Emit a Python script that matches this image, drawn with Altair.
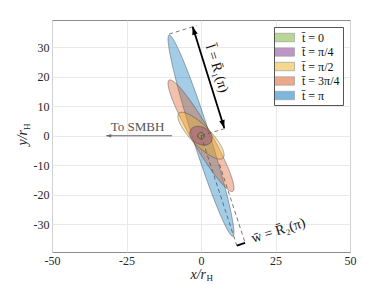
import altair as alt
import numpy as np
import pandas as pd

# ---- data ----
labels = ["t̄ = 0", "t̄ = π/4", "t̄ = π/2", "t̄ = 3π/4", "t̄ = π"]
colors = ["#77AC30", "#7E2F8E", "#EDB120", "#D95319", "#0072BD"]
semi_major = [1.1, 4.0, 10.6, 21.7, 35.8]
semi_minor = [1.1, 2.9, 3.3, 3.3, 2.9]
tilt_deg = [0.0, 150.0, 134.0, 119.5, 107.4]

x_ticks = [-50, -25, 0, 25, 50]
y_ticks = [-30, -20, -10, 0, 10, 20, 30]

# annotation segments (x, y, x2, y2)
dashed_x = [-10.7, 0.0, 0.0, 6.2]
dashed_y = [34.5, 0.0, 0.0, -9.7]
dashed_x2 = [-1.5, 8.6, 12.0, 14.8]
dashed_y2 = [37.4, 2.6, -37.3, -36.4]

solid_x = [-2.8, 12.0]
solid_y = [37.0, -37.3]
solid_x2 = [7.8, 14.8]
solid_y2 = [2.6, -36.4]

head_x = [-2.8, 7.8]
head_y = [37.0, 2.6]
head_angle = [343, 163]

smbh_x, smbh_x2, smbh_y = [-9.7], [-31.8], [0.0]
smbh_text = ["To SMBH"]
smbh_text_x, smbh_text_y = [-21.3], [2.8]

ann_text = ["l̄ = R̄₁(π)", "w̄ = R̄₂(π)"]
ann_x = [5.3, 26.0]
ann_y = [22.8, -32.3]
ann_angle = [73, 343]

X_DOM = [-50, 50]
Y_DOM = [-39.5, 39.3]
SERIF = "Liberation Serif"


def ellipse_rows(label, a, b, th_deg, n=241):
    th = np.radians(th_deg)
    c, s = np.cos(th), np.sin(th)
    A = c * c / a**2 + s * s / b**2
    ymax = np.sqrt(a * a * s * s + b * b * c * c)
    ys = ymax * np.cos(np.linspace(0, np.pi, n))
    B = 2 * ys * s * c * (1 / a**2 - 1 / b**2)
    C = ys**2 * (s * s / a**2 + c * c / b**2) - 1
    disc = np.clip(B * B - 4 * A * C, 0, None)
    x1 = (-B - np.sqrt(disc)) / (2 * A)
    x2 = (-B + np.sqrt(disc)) / (2 * A)
    return pd.DataFrame({"label": label, "y": ys, "x1": x1, "x2": x2})


df = pd.concat(
    [ellipse_rows(l, a, b, t) for l, a, b, t in zip(labels, semi_major, semi_minor, tilt_deg)],
    ignore_index=True,
)

xs = alt.Scale(domain=X_DOM, nice=False, zero=False)
ys = alt.Scale(domain=Y_DOM, nice=False, zero=False)
x_axis = alt.Axis(values=x_ticks, title=None, labelExpr="'' + datum.value", labelOverlap=False, labelFlush=False)
y_axis = alt.Axis(values=y_ticks, title=None, labelExpr="'' + datum.value", labelOverlap=False, labelFlush=False)


def X(field):
    return alt.X(field, scale=xs, axis=x_axis)


def Y(field):
    return alt.Y(field, scale=ys, axis=y_axis)


legend = alt.Legend(
    title=None,
    orient="none",
    legendX=222,
    legendY=7,
    symbolType="M-1.43,-0.6L1.43,-0.6L1.43,0.6L-1.43,0.6Z",
    symbolSize=196,
    symbolStrokeColor="#444",
    symbolStrokeWidth=0.7,
    symbolOpacity=0.5,
    labelFont=SERIF,
    labelFontSize=12,
    labelColor="#111",
    labelOffset=10,
    strokeColor="#555",
    fillColor="white",
    padding=3,
    rowPadding=0.5,
)

color = alt.Color("label:N", scale=alt.Scale(domain=labels, range=colors), legend=legend)

layers = []
for lab in reversed(labels):
    layers.append(
        alt.Chart(df)
        .transform_filter(alt.datum.label == lab)
        .mark_area(orient="horizontal", fillOpacity=0.36, stroke="#333", strokeOpacity=0.6, strokeWidth=0.7)
        .encode(y=Y("y:Q"), x=X("x1:Q"), x2="x2:Q", color=color)
    )

dashed = alt.Chart(pd.DataFrame({"x": dashed_x, "y": dashed_y, "x2": dashed_x2, "y2": dashed_y2})).mark_rule(
    color="#555", strokeDash=[4, 3], strokeWidth=0.8
).encode(x=X("x:Q"), y=Y("y:Q"), x2="x2:Q", y2="y2:Q")

solid = alt.Chart(pd.DataFrame({"x": solid_x, "y": solid_y, "x2": solid_x2, "y2": solid_y2})).mark_rule(
    color="black", strokeWidth=1.8
).encode(x=X("x:Q"), y=Y("y:Q"), x2="x2:Q", y2="y2:Q")

ARROW = "M0,0L0.35,1L-0.35,1Z"
heads = alt.Chart(pd.DataFrame({"x": head_x, "y": head_y, "a": head_angle})).mark_point(
    shape=ARROW, filled=True, color="black", size=256, opacity=1
).encode(x=X("x:Q"), y=Y("y:Q"), angle=alt.Angle("a:Q", scale=None))

smbh_line = alt.Chart(pd.DataFrame({"x": smbh_x, "x2": smbh_x2, "y": smbh_y})).mark_rule(
    color="#666", strokeWidth=1.1
).encode(x=X("x:Q"), x2="x2:Q", y=Y("y:Q"))

smbh_head = alt.Chart(pd.DataFrame({"x": smbh_x2, "y": smbh_y})).mark_point(
    shape=ARROW, filled=True, color="#666", size=100, opacity=1, angle=270
).encode(x=X("x:Q"), y=Y("y:Q"))

smbh_lab = alt.Chart(pd.DataFrame({"x": smbh_text_x, "y": smbh_text_y, "t": smbh_text})).mark_text(
    font=SERIF, fontSize=13, color="#555", baseline="middle"
).encode(x=X("x:Q"), y=Y("y:Q"), text="t:N")

ann = alt.Chart(pd.DataFrame({"x": ann_x, "y": ann_y, "t": ann_text, "a": ann_angle})).mark_text(
    font=SERIF, fontSize=14, color="#111", baseline="middle"
).encode(x=X("x:Q"), y=Y("y:Q"), text="t:N", angle=alt.Angle("a:Q", scale=None))

one = pd.DataFrame({"k": [0]})
xt1 = alt.Chart(one).mark_text(text="x/r", font=SERIF, fontSize=14, fontStyle="italic", align="right",
                               baseline="middle", color="#222").encode(x=alt.value(154), y=alt.value(255))
xt2 = alt.Chart(one).mark_text(text="H", font=SERIF, fontSize=9, align="left",
                               baseline="middle", color="#222").encode(x=alt.value(154.5), y=alt.value(258))
yt1 = alt.Chart(one).mark_text(text="y/r", font=SERIF, fontSize=14, fontStyle="italic", align="right",
                               baseline="middle", angle=270, color="#222").encode(x=alt.value(-29), y=alt.value(110))
yt2 = alt.Chart(one).mark_text(text="H", font=SERIF, fontSize=9, align="left",
                               baseline="middle", angle=270, color="#222").encode(x=alt.value(-25), y=alt.value(110))

chart = (
    alt.layer(*layers, dashed, solid, heads, smbh_line, smbh_head, smbh_lab, ann, xt1, xt2, yt1, yt2)
    .properties(
        width=298,
        height=232,
        autosize=alt.AutoSizeParams(type="none"),
        padding={"left": 44, "top": 12, "right": 31, "bottom": 32},
    )
    .configure_axis(
        labelFont=SERIF,
        labelFontSize=12,
        labelColor="#262626",
        gridColor="#e3e3e3",
        gridWidth=0.8,
        domain=False,
        ticks=False,
        labelPadding=3,
        labelOverlap=False,
        labelFlush=False,
    )
    .configure_view(stroke="#8c8c8c", strokeWidth=1)
)

chart.save("out.html", embed_options={"renderer": "svg", "actions": False})
